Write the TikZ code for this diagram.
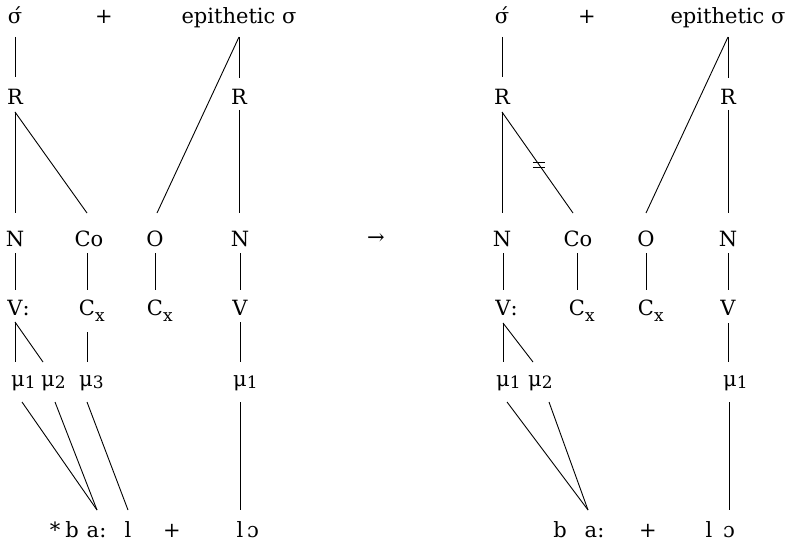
\documentclass[tikz,border=0pt]{standalone}
\usepackage{fontspec}
\setmainfont{DejaVu Serif}
\newcommand\subn[1]{\rlap{\raisebox{-2pt}{\fontsize{17}{17}\selectfont #1}}}
\newcommand\subx[1]{\rlap{\raisebox{-6pt}{\fontsize{17}{17}\selectfont #1}}}
\begin{document}
\begin{tikzpicture}[x=1pt,y=-1pt,
  every node/.style={font=\fontsize{21}{24}\selectfont, inner sep=0pt, anchor=base},
  lnk/.style={line width=0.9pt}]
\useasboundingbox (0,0) rectangle (788,543);
% ---------- left tree ----------
\node (s1) at (15,24) {σ́};
\node (p1) at (104,24) {+};
\node (e1) at (239,24) {epithetic σ};
\node (R1) at (15,104) {R};
\node (R2) at (239,104) {R};
\node (N1) at (15,246) {N};
\node (Co1) at (89,246) {Co};
\node (O1) at (155,246) {O};
\node (N2) at (240,246) {N};
\node (V1) at (15,315) {V\rlap{:}};
\node (Cx1) at (87,315) {C\subx{x}};
\node (Cx2) at (155,315) {C\subx{x}};
\node (V2) at (240,315) {V};
\node (m1) at (18,386) {μ\subn{1}};
\node (m2) at (48,386) {μ\subn{2}};
\node (m3) at (86,386) {μ\subn{3}};
\node (m4) at (240,386) {μ\subn{1}};
\node (st) at (55,537) {*};
\node (b1) at (72,537) {b};
\node (a1) at (93,537) {a\rlap{:}};
\node (l1) at (128,537) {l};
\node (p2) at (172,537) {+};
\node (l2) at (240,537) {l};
\node (o1) at (253,537) {ɔ};
\draw[lnk] ([shift={(0,13)}]s1.base) -- ([shift={(0,-27)}]R1.base);
\draw[lnk] ([shift={(0,13)}]e1.base) -- ([shift={(0,-26)}]R2.base);
\draw[lnk] ([shift={(0,13)}]e1.base) -- ([shift={(2,-33)}]O1.base);
\draw[lnk] ([shift={(0,8)}]R1.base) -- ([shift={(0,-33)}]N1.base);
\draw[lnk] ([shift={(0,8)}]R1.base) -- ([shift={(-2,-33)}]Co1.base);
\draw[lnk] ([shift={(0,6)}]R2.base) -- ([shift={(0,-33)}]R2.base |- N2.base);
\draw[lnk] ([shift={(0,7)}]N1.base) -- ([shift={(0,-25)}]V1.base);
\draw[lnk] ([shift={(-2,7)}]Co1.base) -- ([shift={(0,-25)}]Cx1.base);
\draw[lnk] ([shift={(0,7)}]O1.base) -- ([shift={(0,-25)}]Cx2.base);
\draw[lnk] ([shift={(0,7)}]N2.base) -- ([shift={(0,-25)}]V2.base);
\draw[lnk] ([shift={(0,7)}]V1.base) -- ([shift={(-3,-24)}]m1.base);
\draw[lnk] ([shift={(0,7)}]V1.base) -- ([shift={(-5,-24)}]m2.base);
\draw[lnk] ([shift={(0,17)}]Cx1.base) -- ([shift={(1,-24)}]m3.base);
\draw[lnk] ([shift={(0,7)}]V2.base) -- ([shift={(0,-24)}]m4.base);
\draw[lnk] ([shift={(4,16)}]m1.base) -- ([shift={(4,-27)}]a1.base);
\draw[lnk] ([shift={(7,16)}]m2.base) -- ([shift={(4,-27)}]a1.base);
\draw[lnk] ([shift={(1,16)}]m3.base) -- ([shift={(0,-27)}]l1.base);
\draw[lnk] ([shift={(0,16)}]m4.base) -- ([shift={(0,-27)}]l2.base);
% ---------- arrow ----------
\node[anchor=center] (arr) at (376,239) {→};
% ---------- right tree ----------
\node (s2) at (502,24) {σ́};
\node (p3) at (587,24) {+};
\node (e2) at (728,24) {epithetic σ};
\node (R3) at (502,104) {R};
\node (R4) at (728,104) {R};
\node (N3) at (502,246) {N};
\node (Co2) at (578,246) {Co};
\node (O2) at (646,246) {O};
\node (N4) at (728,246) {N};
\node (V3) at (503,315) {V\rlap{:}};
\node (Cx3) at (577,315) {C\subx{x}};
\node (Cx4) at (646,315) {C\subx{x}};
\node (V4) at (728,315) {V};
\node (m5) at (503,386) {μ\subn{1}};
\node (m6) at (535,386) {μ\subn{2}};
\node (m7) at (730,386) {μ\subn{1}};
\node (b2) at (560,537) {b};
\node (a2) at (591,537) {a\rlap{:}};
\node (p4) at (648,537) {+};
\node (l3) at (709,537) {l};
\node (o2) at (729,537) {ɔ};
\draw[lnk] ([shift={(0,13)}]s2.base) -- ([shift={(0,-27)}]R3.base);
\draw[lnk] ([shift={(0,13)}]e2.base) -- ([shift={(0,-26)}]R4.base);
\draw[lnk] ([shift={(0,13)}]e2.base) -- ([shift={(0,-33)}]O2.base);
\draw[lnk] ([shift={(0,8)}]R3.base) -- ([shift={(0,-33)}]N3.base);
\draw[lnk] ([shift={(0,8)}]R3.base) -- coordinate[pos=0.52] (cut) ([shift={(-5,-33)}]Co2.base);
\draw[lnk] ([shift={(-6,-2.5)}]cut) -- ([shift={(6,-2.5)}]cut);
\draw[lnk] ([shift={(-6,2.5)}]cut) -- ([shift={(6,2.5)}]cut);
\draw[lnk] ([shift={(0,6)}]R4.base) -- ([shift={(0,-33)}]N4.base);
\draw[lnk] ([shift={(1,7)}]N3.base) -- ([shift={(0,-25)}]V3.base);
\draw[lnk] ([shift={(-1,7)}]Co2.base) -- ([shift={(0,-25)}]Cx3.base);
\draw[lnk] ([shift={(0,7)}]O2.base) -- ([shift={(0,-25)}]Cx4.base);
\draw[lnk] ([shift={(0,7)}]N4.base) -- ([shift={(0,-25)}]V4.base);
\draw[lnk] ([shift={(0,8)}]V3.base) -- ([shift={(0,-24)}]m5.base);
\draw[lnk] ([shift={(0,8)}]V3.base) -- ([shift={(-2,-24)}]m6.base);
\draw[lnk] ([shift={(0,8)}]V4.base) -- ([shift={(-2,-24)}]m7.base);
\draw[lnk] ([shift={(4,16)}]m5.base) -- ([shift={(-3,-27)}]a2.base);
\draw[lnk] ([shift={(14,16)}]m6.base) -- ([shift={(-3,-27)}]a2.base);
\draw[lnk] ([shift={(-1,16)}]m7.base) -- ([shift={(0,-27)}]o2.base);
\end{tikzpicture}
\end{document}
